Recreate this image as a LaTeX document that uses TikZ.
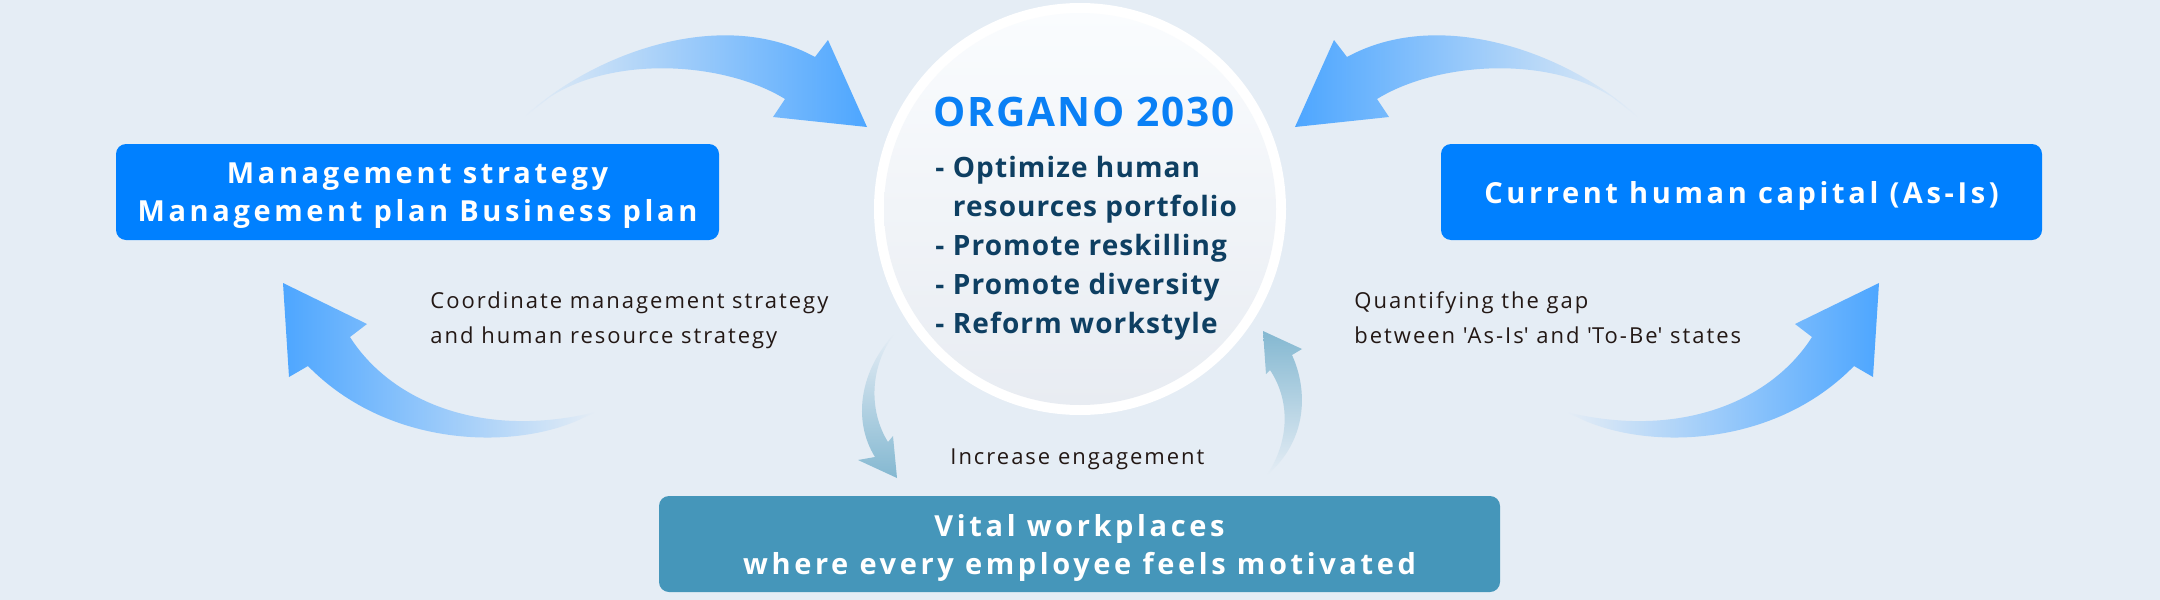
\documentclass[tikz,border=0pt]{standalone}
\usepackage{fontspec}
\setmainfont{Open Sans}
\definecolor{bg}{HTML}{E5EDF5}
\definecolor{boxblue}{HTML}{0080FF}
\definecolor{boxteal}{HTML}{4596BA}
\definecolor{arrowblue}{HTML}{4DA6FF}
\definecolor{arrowteal}{HTML}{84B8D1}
\definecolor{titleblue}{HTML}{0A80F5}
\definecolor{navy}{HTML}{0E3F62}
\definecolor{labeltext}{HTML}{231815}
\definecolor{circtop}{HTML}{FAFCFE}
\definecolor{circbot}{HTML}{E8ECF2}
\newcommand\mylines[2]{\begin{tabular}[t]{@{}#1@{}}#2\end{tabular}}
\begin{document}
\begin{tikzpicture}[x=0.5pt,y=-0.5pt,
  boxstyle/.style={rounded corners=5pt, minimum height=48pt, text=white, text depth=0pt,
    font=\bfseries\fontsize{14.5pt}{19pt}\selectfont\addfontfeatures{LetterSpace=12.5},
    align=center, inner sep=0pt},
  labelstyle/.style={anchor=base west, inner sep=0pt, text=labeltext,
    font=\fontsize{11pt}{17.5pt}\selectfont\addfontfeatures{LetterSpace=9}},
  bigarrow/.style={draw=none},
  smallarrow/.style={draw=none}]
\fill[bg] (0,0) rectangle (2160,600);
\useasboundingbox (0,0) rectangle (2160,600);

% big curved arrows
\path[bigarrow, left color=bg, right color=arrowblue]
  (523,118) .. controls (590,55) and (720,5) .. (815,57) -- (828,40) -- (867,127)
  -- (773,117) -- (785,99) .. controls (725,62) and (615,55) .. (550,97) -- cycle;
\path[bigarrow, left color=arrowblue, right color=bg]
  (1639,118) .. controls (1572,55) and (1442,5) .. (1347,57) -- (1334,40) -- (1295,127)
  -- (1389,117) -- (1377,99) .. controls (1437,62) and (1547,55) .. (1612,97) -- cycle;
\path[bigarrow, left color=arrowblue, right color=bg]
  (283,283) -- (367,324) -- (350,337) .. controls (390,400) and (480,440) .. (596,412)
  -- (585,417) .. controls (520,450) and (390,450) .. (308,366) -- (289,377) -- cycle;
\path[bigarrow, left color=bg, right color=arrowblue]
  (1879,283) -- (1795,324) -- (1812,337) .. controls (1772,400) and (1682,440) .. (1566,412)
  -- (1577,417) .. controls (1642,450) and (1772,450) .. (1854,366) -- (1873,377) -- cycle;

% small arrows
\path[smallarrow, top color=bg, bottom color=arrowteal]
  (895,333) .. controls (860,370) and (852,420) .. (875,457) -- (858,460) -- (897,478)
  -- (893,436) -- (888,442) .. controls (868,410) and (870,365) .. (895,333) -- cycle;
\path[smallarrow, top color=arrowteal, bottom color=bg]
  (1263,331) -- (1302,349) -- (1292,355) .. controls (1308,390) and (1308,440) .. (1267,475)
  .. controls (1290,440) and (1290,400) .. (1270,370) -- (1266,374) -- cycle;

% central circle
\node[circle, fill=white, minimum size=206pt, inner sep=0pt] (organo) at (1080,209) {};
\path[top color=circtop, bottom color=circbot] (organo.center) circle[radius=98pt];
\node[anchor=base west, inner sep=0pt, text=titleblue,
  font=\bfseries\fontsize{20.3pt}{24pt}\selectfont\addfontfeatures{LetterSpace=4.5}]
  (title) at (933,126) {ORGANO 2030};
\node[anchor=base west, inner sep=0pt, text=navy,
  font=\bfseries\fontsize{14pt}{19.5pt}\selectfont\addfontfeatures{LetterSpace=4}]
  (list) at (935,177) {\mylines{l}{- Optimize human\\\phantom{- }resources portfolio\\- Promote reskilling\\- Promote diversity\\- Reform workstyle}};

% boxes
\node[boxstyle, fill=boxblue, minimum width=301.5pt] (strategy) at (417.5,192)
  {Management strategy\\Management plan Business plan};
\node[boxstyle, fill=boxblue, minimum width=300.5pt] (current) at (1741.5,192)
  {Current human capital (As-Is)};
\node[boxstyle, fill=boxteal, minimum width=420.5pt] (vital) at (1079.5,544)
  {Vital workplaces\\where every employee feels motivated};

% labels
\node[labelstyle] (coord) at (430,308)
  {\mylines{l}{Coordinate management strategy\\and human resource strategy}};
\node[labelstyle] (gap) at (1354,308)
  {\mylines{l}{Quantifying the gap\\between \textquotesingle As-Is\textquotesingle{} and \textquotesingle To-Be\textquotesingle{} states}};
\node[labelstyle] (engage) at (950,464) {Increase engagement};
\end{tikzpicture}
\end{document}
